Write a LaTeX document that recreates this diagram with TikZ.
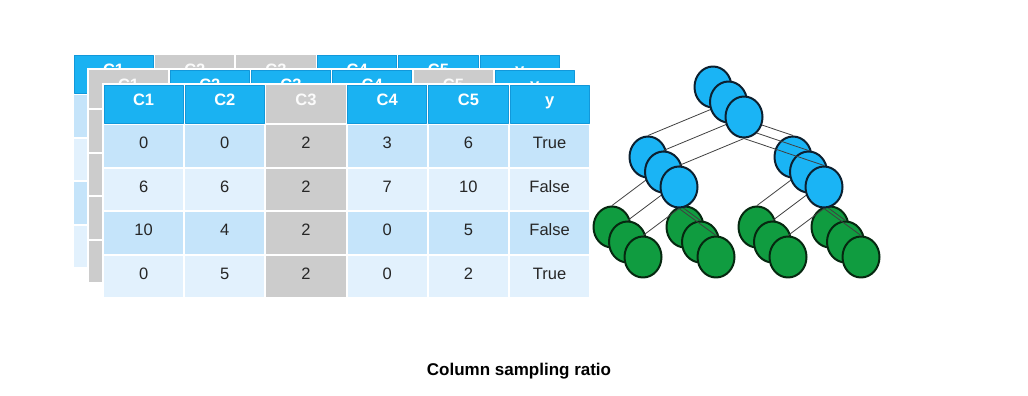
\documentclass[tikz,border=0pt]{standalone}
\usepackage{fontspec}
\setmainfont{Liberation Sans}
\usetikzlibrary{shapes.geometric}
\definecolor{hblue}{RGB}{26,178,242}
\definecolor{hedge}{RGB}{18,152,218}
\definecolor{rowA}{RGB}{197,228,250}
\definecolor{rowB}{RGB}{226,241,253}
\definecolor{cgray}{RGB}{204,204,204}
\definecolor{nblue}{RGB}{26,180,245}
\definecolor{nblueline}{RGB}{12,32,48}
\definecolor{ngreen}{RGB}{16,156,64}
\definecolor{ngreenline}{RGB}{6,40,16}
\tikzset{
  every picture/.style={x=1pt, y=-1pt, line join=round, line cap=round},
  every node/.style={font=\fontsize{16.5}{19}\selectfont},
  head/.style={rectangle, inner sep=0pt, minimum width=79.2, minimum height=38, text height=12pt, text depth=10pt, font=\fontsize{16.5}{19}\selectfont\bfseries, text=white},
  blue head/.style={fill=hblue, draw=hedge, line width=0.7pt},
  gray head/.style={fill=cgray, text=white!92!cgray},
  cell/.style={rectangle, inner sep=0pt, minimum width=79.2, minimum height=41.5, text height=12pt, text depth=6pt, text=black!85},
  blue cell1/.style={fill=rowA},
  blue cell0/.style={fill=rowB},
  gray cell1/.style={fill=cgray},
  gray cell0/.style={fill=cgray},
  bnode/.style={ellipse, minimum width=37, minimum height=41, fill=nblue, draw=nblueline, line width=2pt},
  gnode/.style={ellipse, minimum width=37, minimum height=41, fill=ngreen, draw=ngreenline, line width=2pt},
  link/.style={draw=black!75, line width=0.8pt},
}
\def\colw{81.2}
\def\rowh{43.5}
% column type: grey if it is one of the two given columns
\newcommand\colkind[3]{\def\kind{blue}\ifnum#1=#2 \def\kind{gray}\fi\ifnum#1=#3 \def\kind{gray}\fi}
% one sheet: prefix, two grey columns, header labels, rows
\newcommand\sheet[5]{%
  \fill[white] (-1,-1) rectangle ({6*\colw+1},{40+4*\rowh+1});
  \foreach \lab [count=\i] in {#4}{
    \colkind{\i}{#2}{#3}
    \node[head,\kind\space head] (#1-h\i) at ({(\i-.5)*\colw},20) {\lab};
  }
  \foreach \vals [count=\r] in {#5}{
    \pgfmathtruncatemacro\odd{mod(\r,2)}
    \foreach \v [count=\i] in \vals{
      \colkind{\i}{#2}{#3}
      \node[cell,\kind\space cell\odd] (#1-\r-\i) at ({(\i-.5)*\colw},{40+(\r-.5)*\rowh}) {\v};
    }
  }
}
\begin{document}
\begin{tikzpicture}
\useasboundingbox (0,0) rectangle (1028,396);
% stacked sheets, back to front
\begin{scope}[shift={(73,54)}]
\sheet{b}{2}{3}{C1,C2,C3,C4,C5,y}{{{},{},{},{},{},{}},{{},{},{},{},{},{}},{{},{},{},{},{},{}},{{},{},{},{},{},{}}}
\end{scope}
\begin{scope}[shift={(88,69)}]
\sheet{m}{1}{5}{C1,C2,C3,C4,C5,y}{{{},{},{},{},{},{}},{{},{},{},{},{},{}},{{},{},{},{},{},{}},{{},{},{},{},{},{}}}
\end{scope}
\begin{scope}[shift={(103,84)}]
\sheet{f}{3}{0}{C1,C2,C3,C4,C5,y}{{0,0,2,3,6,True},{6,6,2,7,10,False},{10,4,2,0,5,False},{0,5,2,0,2,True}}
\end{scope}
% three trees, each one a little lower right
\foreach \k in {0,1,2}{
  \begin{scope}[shift={(15.5*\k,15*\k)}]
  \node[bnode] (root\k) at (713,87) {};
  \node[bnode] (lft\k) at (648,157) {};
  \node[bnode] (rgt\k) at (793,157) {};
  \node[gnode] (ll\k) at (612,227) {};
  \node[gnode] (lr\k) at (685,227) {};
  \node[gnode] (rl\k) at (757,227) {};
  \node[gnode] (rr\k) at (830,227) {};
  \draw[link] (root\k.south)--(lft\k.north) (root\k.south)--(rgt\k.north)
    (lft\k.south)--(ll\k.north) (lft\k.south)--(lr\k.north)
    (rgt\k.south)--(rl\k.north) (rgt\k.south)--(rr\k.north);
  \end{scope}
}
\node[font=\fontsize{17}{20}\selectfont\bfseries] (caption) at (519,371) {Column sampling ratio};
\end{tikzpicture}
\end{document}
